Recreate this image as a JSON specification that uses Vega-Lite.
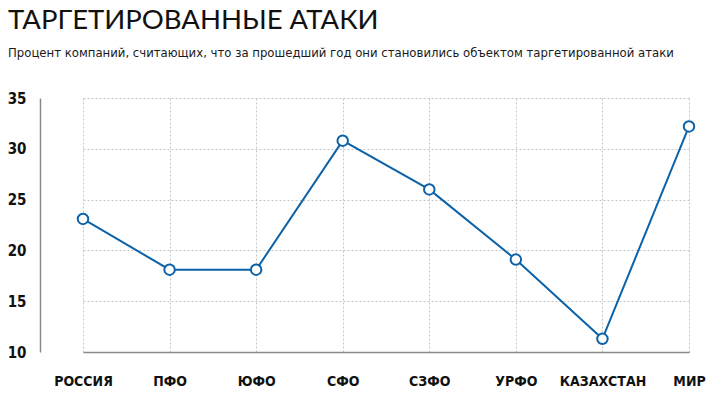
{
  "$schema": "https://vega.github.io/schema/vega-lite/v6.json",
  "width": 649,
  "height": 254,
  "autosize": {"type": "none"},
  "padding": {"left": 40, "top": 98, "right": 30, "bottom": 47},
  "background": "white",
  "title": {
    "text": "ТАРГЕТИРОВАННЫЕ АТАКИ",
    "subtitle": "Процент компаний, считающих, что за прошедший год они становились объектом таргетированной атаки",
    "anchor": "start",
    "frame": "group",
    "dx": -32,
    "offset": 31,
    "font": "Lato",
    "fontSize": 27.5,
    "fontWeight": "normal",
    "color": "#111111",
    "subtitleFont": "DejaVu Sans Condensed",
    "subtitleFontSize": 13,
    "subtitleColor": "#1a1a1a",
    "subtitlePadding": 13
  },
  "data": {
    "values": [
      {"region": "РОССИЯ", "value": 23.1},
      {"region": "ПФО", "value": 18.1},
      {"region": "ЮФО", "value": 18.1},
      {"region": "СФО", "value": 30.8},
      {"region": "СЗФО", "value": 26.0},
      {"region": "УРФО", "value": 19.1},
      {"region": "КАЗАХСТАН", "value": 11.3},
      {"region": "МИР", "value": 32.2}
    ]
  },
  "config": {
    "view": {"stroke": null},
    "axis": {
      "gridColor": "#c4c4c4",
      "gridDash": [2, 2],
      "gridWidth": 1,
      "domainColor": "#8a8a8a",
      "domainWidth": 1.5,
      "ticks": false,
      "labelFont": "DejaVu Sans Condensed",
      "labelFontWeight": "bold",
      "labelColor": "#111111",
      "title": null
    }
  },
  "encoding": {
    "x": {
      "field": "region",
      "type": "ordinal",
      "sort": null,
      "scale": {"type": "point", "range": [43, 649], "padding": 0},
      "axis": {"labelAngle": 0, "labelFontSize": 14, "labelPadding": 22, "grid": true, "domain": true}
    },
    "y": {
      "field": "value",
      "type": "quantitative",
      "scale": {"domain": [10, 35], "nice": false, "zero": false},
      "axis": {"values": [10, 15, 20, 25, 30, 35], "labelFontSize": 15, "labelPadding": 14, "grid": true, "labelBaseline": "middle"}
    }
  },
  "layer": [
    {"mark": {"type": "line", "color": "#0b62a8", "strokeWidth": 2}},
    {"mark": {"type": "point", "shape": "circle", "filled": true, "fill": "white", "stroke": "#0b62a8", "strokeWidth": 2, "size": 110, "opacity": 1}}
  ]
}
